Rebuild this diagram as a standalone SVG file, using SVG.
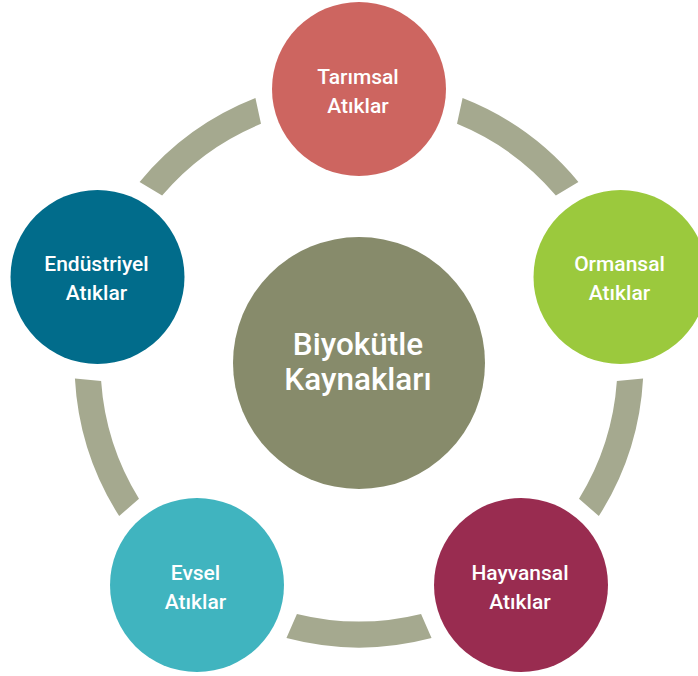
<svg xmlns="http://www.w3.org/2000/svg" width="698" height="676" viewBox="0 0 698 676">
  <style>
    .ring { fill: #a5a98f; }
    .lbl { font-family: Roboto, "Liberation Sans", Arial, sans-serif; font-weight: 500; font-size: 21px; fill: #ffffff; text-anchor: middle; }
    .big { font-family: Roboto, "Liberation Sans", Arial, sans-serif; font-weight: 500; font-size: 31.5px; fill: #ffffff; text-anchor: middle; }
  </style>
  <rect width="698" height="676" fill="#ffffff"/>
  <g id="connectors">
    <path class="ring" d="M 462.58 98.03 A 284.5 284.5 0 0 1 578.41 181.90 L 555.87 195.48 A 258.5 258.5 0 0 0 457.01 123.80 Z"/>
    <path class="ring" d="M 643.08 378.51 A 284.5 284.5 0 0 1 598.82 516.06 L 579.02 498.70 A 258.5 258.5 0 0 0 616.87 380.97 Z"/>
    <path class="ring" d="M 431.55 638.10 A 284.5 284.5 0 0 1 286.45 638.10 L 296.93 613.94 A 258.5 258.5 0 0 0 421.07 613.94 Z"/>
    <path class="ring" d="M 119.18 516.06 A 284.5 284.5 0 0 1 74.92 378.51 L 101.13 380.97 A 258.5 258.5 0 0 0 138.98 498.70 Z"/>
    <path class="ring" d="M 139.59 181.90 A 284.5 284.5 0 0 1 255.42 98.03 L 260.99 123.80 A 258.5 258.5 0 0 0 162.13 195.48 Z"/>
  </g>
  <g id="center">
    <circle cx="359" cy="363" r="126" fill="#878b6b"/>
    <text class="big" x="358" y="355">Biyokütle</text>
    <text class="big" x="358" y="390">Kaynakları</text>
  </g>
  <g id="tarimsal">
    <circle cx="359" cy="89" r="87" fill="#cd6560"/>
    <text class="lbl" x="358" y="84">Tarımsal</text>
    <text class="lbl" x="358" y="113">Atıklar</text>
  </g>
  <g id="ormansal">
    <circle cx="620.5" cy="277" r="87" fill="#9bc93d"/>
    <text class="lbl" x="619.5" y="271">Ormansal</text>
    <text class="lbl" x="619.5" y="300">Atıklar</text>
  </g>
  <g id="hayvansal">
    <circle cx="521" cy="585" r="87" fill="#992c50"/>
    <text class="lbl" x="520" y="580">Hayvansal</text>
    <text class="lbl" x="520" y="609">Atıklar</text>
  </g>
  <g id="evsel">
    <circle cx="197" cy="585" r="87" fill="#40b4bf"/>
    <text class="lbl" x="195.5" y="580">Evsel</text>
    <text class="lbl" x="195.5" y="609">Atıklar</text>
  </g>
  <g id="endustriyel">
    <circle cx="97.5" cy="277" r="87" fill="#016c8b"/>
    <text class="lbl" x="96.5" y="271">Endüstriyel</text>
    <text class="lbl" x="96.5" y="300">Atıklar</text>
  </g>
</svg>
